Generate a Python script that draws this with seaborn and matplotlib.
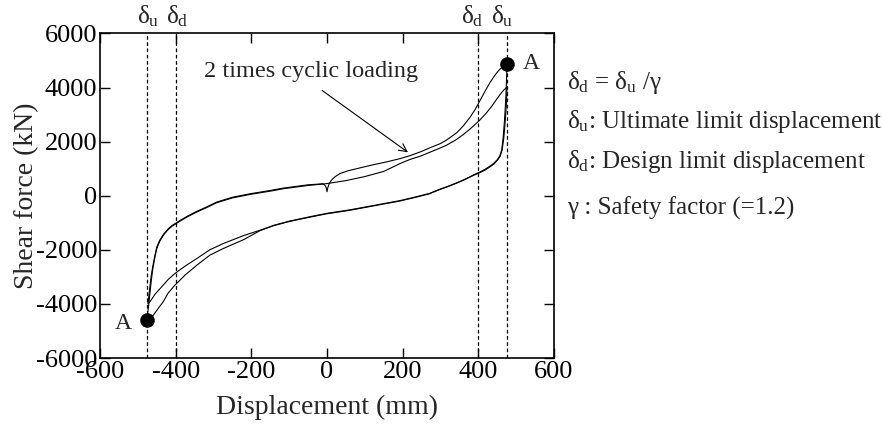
import numpy as np
import pandas as pd
import matplotlib
matplotlib.use("Agg")
import matplotlib.pyplot as plt
import seaborn as sns

# ---------------- data ----------------
# initial loading: starts near the origin (cusp) and climbs to point A (+)
init_x = [-12, -6, -2, 0, 2, 5, 9, 14, 22, 34, 55, 79, 120, 160, 193, 219, 250, 272, 300,
          316, 343, 360, 378, 392, 404, 418, 431, 443, 453, 465, 476]
init_y = [440, 400, 300, 150, 290, 420, 520, 610, 710, 819, 920, 1003, 1140, 1260, 1373, 1480,
          1640, 1775, 1930, 2060, 2330, 2580, 2900, 3200, 3510, 3870, 4190, 4440, 4620, 4785, 4880]

# unloading from A(+) down to A(-)
l1_x = [476, 475, 474, 473, 471, 469, 466, 462, 457, 450, 440, 430, 418, 404, 390, 375, 360,
        340, 320, 300, 272, 237, 193, 150, 100, 61, 0, -50, -100, -140, -177, -220, -274,
        -310, -344, -375, -402, -420, -433, -447, -459, -468, -476]
l1_y = [4880, 4500, 4100, 3700, 3200, 2750, 2200, 1700, 1480, 1330, 1190, 1090, 980, 878, 790,
        680, 580, 460, 350, 250, 90, -35, -180, -290, -420, -520, -650, -790, -940, -1090,
        -1290, -1620, -1950, -2200, -2566, -2930, -3305, -3600, -3922, -4180, -4413, -4530, -4600]

# reloading from A(-) up to +4000
u1_x = [-476, -474, -471, -468, -465, -461, -456, -450, -442, -432, -420, -410, -400, -384,
        -365, -344, -320, -292, -250, -203, -150, -115, -50, 0, 50, 100, 150, 193, 219, 250,
        272, 300, 316, 340, 360, 380, 404, 420, 435, 449, 460, 468, 474, 476]
u1_y = [-4600, -4350, -4000, -3600, -3200, -2750, -2350, -1950, -1680, -1450, -1250, -1130,
        -1040, -900, -750, -600, -450, -260, -80, 50, 170, 260, 380, 450, 560, 710, 900, 1190,
        1340, 1480, 1610, 1770, 1870, 2060, 2260, 2490, 2800, 3040, 3300, 3580, 3790, 3920,
        3990, 4010]

# unloading from +4000 down to -4000
l2_x = [476, 475, 474, 472, 470, 467, 463, 458, 451, 441, 431, 419, 405, 390, 373, 358, 338,
        318, 298, 270, 235, 191, 148, 98, 59, -2, -52, -102, -142, -177, -220, -274, -310,
        -344, -375, -402, -420, -441, -455, -468, -473]
l2_y = [4000, 3700, 3350, 2950, 2550, 2100, 1700, 1470, 1320, 1170, 1070, 960, 860, 770, 660,
        560, 440, 330, 230, 70, -55, -200, -310, -440, -540, -670, -810, -960, -1110, -1275,
        -1470, -1766, -2000, -2320, -2600, -2874, -3100, -3428, -3650, -3920, -3980]

# reloading from -4000 back towards the origin
u2_x = [-473, -471, -468, -465, -461, -456, -450, -442, -432, -420, -410, -400, -384, -365,
        -344, -320, -292, -250, -203, -150, -115, -50, -12]
u2_y = [-3980, -3700, -3350, -3000, -2650, -2280, -1900, -1640, -1420, -1225, -1105, -1015,
        -875, -725, -575, -425, -235, -55, 75, 195, 285, 405, 440]

curves = {"init": (init_x, init_y), "l1": (l1_x, l1_y), "u1": (u1_x, u1_y),
          "l2": (l2_x, l2_y), "u2": (u2_x, u2_y)}

point_x = [476, -476]
point_y = [4880, -4600]

delta_u = 476
delta_d = 400

x_ticks = [-600, -400, -200, 0, 200, 400, 600]
y_ticks = [-6000, -4000, -2000, 0, 2000, 4000, 6000]

# ---------------- style ----------------
sns.set_theme(style="ticks")
plt.rcParams["font.family"] = ["Liberation Serif", "DejaVu Serif"]
plt.rcParams["mathtext.fontset"] = "custom"
plt.rcParams["mathtext.rm"] = "Liberation Serif"
plt.rcParams["mathtext.it"] = "Liberation Serif:italic"
plt.rcParams["mathtext.bf"] = "Liberation Serif:bold"
plt.rcParams["axes.unicode_minus"] = False

fig = plt.figure(figsize=(8.82, 4.25), dpi=100)
ax = fig.add_axes([0.1134, 0.1576, 0.5147, 0.7636])

for name, (cx, cy) in curves.items():
    df = pd.DataFrame({"x": cx, "y": cy})
    sns.lineplot(data=df, x="x", y="y", sort=False, estimator=None, ax=ax,
                 color="black", lw=0.8)

sns.scatterplot(x=point_x, y=point_y, ax=ax, color="black", s=110, zorder=5,
                edgecolor="black", linewidth=0)

for xv in (-delta_u, -delta_d, delta_d, delta_u):
    ax.axvline(xv, color="black", lw=0.9, linestyle=(0, (3, 2)))

ax.set_xlim(-600, 600)
ax.set_ylim(-6000, 6000)
ax.set_xticks(x_ticks)
ax.set_yticks(y_ticks)
ax.tick_params(direction="in", top=True, right=True, length=7, width=1,
               labelsize=19, pad=2, colors="black")
for s in ax.spines.values():
    s.set_linewidth(1.2)
    s.set_color("black")

ax.set_xlabel("Displacement (mm)", fontsize=20)
ax.set_ylabel("Shear force (kN)", fontsize=20)
ax.xaxis.set_label_coords(0.5, -0.115)
ax.yaxis.set_label_coords(-0.135, 0.5)

# top delta labels
trans = ax.get_xaxis_transform()
for xv, lab in ((-473, r"$\mathrm{\delta}_{\mathrm{u}}$"), (-395, r"$\mathrm{\delta}_{\mathrm{d}}$"),
                (385, r"$\mathrm{\delta}_{\mathrm{d}}$"), (463, r"$\mathrm{\delta}_{\mathrm{u}}$")):
    ax.text(xv, 1.032, lab, transform=trans, ha="center", va="baseline", fontsize=18)

ax.text(539, 4890, "A", ha="center", va="center", fontsize=17)
ax.text(-539, -4710, "A", ha="center", va="center", fontsize=17)

ax.text(-42, 4380, "2 times cyclic loading", ha="center", va="baseline", fontsize=17.5)
ax.annotate("", xy=(214, 1606), xytext=(-13, 3895),
            arrowprops=dict(arrowstyle="->", lw=0.8, color="black", mutation_scale=14,
                            shrinkA=0, shrinkB=0))

# right-hand notes
notes = [(89, r"$\mathrm{\delta}_{\mathrm{d}}$ = $\mathrm{\delta}_{\mathrm{u}}$ /γ"),
         (128, r"$\mathrm{\delta}_{\mathrm{u}}$: Ultimate limit displacement"),
         (168, r"$\mathrm{\delta}_{\mathrm{d}}$: Design limit displacement"),
         (215, "γ : Safety factor (=1.2)")]
for ypx, t in notes:
    fig.text(567 / 882, 1 - ypx / 425, t, ha="left", va="baseline", fontsize=18)

fig.savefig("out.png", dpi=100)
